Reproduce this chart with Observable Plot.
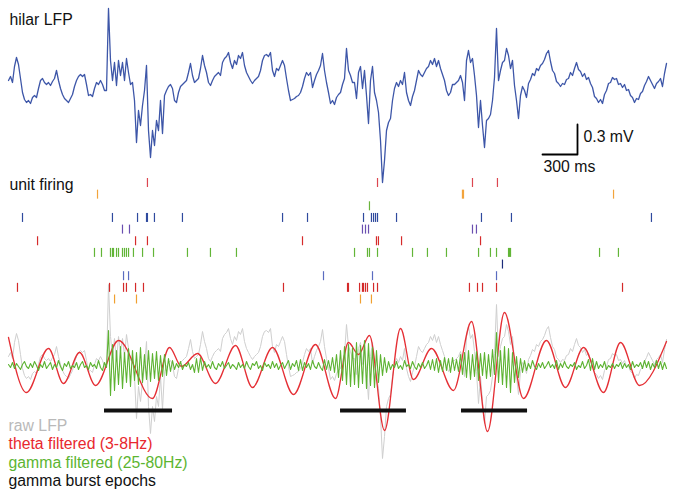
<!DOCTYPE html>
<html><head><meta charset="utf-8">
<script src="https://cdn.jsdelivr.net/npm/d3@7"></script>
<script src="https://cdn.jsdelivr.net/npm/@observablehq/plot@0.6"></script>
<style>
html,body{margin:0;padding:0;background:#fff;}
#chart{width:678px;height:503px;}
</style></head><body><div id="chart"></div>
<script>
// ---------- DATA ----------
const sampleMs = 17.143; // LFP / gamma sampling interval (ms)
const lfpValues = [ // hilar LFP, mV
0.05,0.09,0.03,0.19,0.28,0.21,0.07,-0.07,-0.14,-0.17,
-0.15,-0.18,-0.12,-0.10,-0.12,-0.03,0.05,0.07,0.03,0.01,
0.03,0,0.04,0.07,0.15,0.05,-0.03,-0.09,-0.13,-0.15,
-0.17,-0.13,-0.09,-0.01,0.05,0.09,0.11,0.09,0.11,0.01,
-0.10,-0.09,-0.11,-0.03,0.03,0.01,0.05,0.01,-0.05,-0.05,
0.77,0.25,0.05,0.23,0,0.25,0.10,0.23,0.05,0.27,
0.13,0.01,0.03,-0.15,-0.57,-0.25,-0.40,-0.20,-0.05,0.20,
-0.45,-0.72,-0.45,-0.60,-0.35,-0.45,-0.15,-0.48,-0.10,-0.05,
-0.01,0.01,-0.03,-0.15,-0.17,-0.07,-0.01,0.01,0.03,0.05,
0.13,0.22,0.10,0.03,0.05,0.07,0.17,0.30,0.20,0.13,
0.03,0,0.05,0.09,0.11,0.13,0.10,0.23,0.27,0.29,
0.33,0.23,0.17,0.25,0.21,0.30,0.27,0.33,0.20,0.13,
0.09,0.05,0.02,0.05,0.07,0.09,0.15,0.25,0.30,0.31,
0.29,0.33,0.15,0.09,0.17,0.15,0.20,0.25,0.20,0.07,
-0.05,-0.15,-0.14,-0.13,-0.11,-0.10,-0.07,-0.01,0.07,0.13,
0.10,0.13,-0.02,0.05,0.11,0.15,0.20,0.32,0.15,0.03,
-0.07,-0.18,-0.15,-0.19,-0.12,-0.09,-0.07,0.01,0.07,0.37,
0.15,0.10,0.03,0.03,-0.13,0.13,0.19,-0.03,0.15,-0.10,
-0.38,0.05,0.19,-0.07,-0.15,-0.27,-0.55,-0.97,-0.75,-0.45,
-0.37,-0.33,-0.15,-0.03,0.03,-0.01,0.05,0.01,0.13,-0.07,
-0.15,-0.20,-0.11,-0.05,0.05,0.15,0.11,0.09,0.13,0.17,
0.19,0.25,0.21,0.27,0.19,0.25,0.17,0.11,0.05,-0.05,
-0.10,-0.07,0.01,0.01,0.03,0.05,0.10,0.03,-0.15,0.25,
0.35,0.23,0.27,0.10,-0.10,-0.42,-0.15,-0.40,-0.62,-0.35,
-0.33,-0.29,-0.15,0.08,0.57,0.05,0.15,0.23,0.25,0.37,
0.30,0.17,0.25,0,-0.15,-0.33,-0.10,-0.01,-0.05,-0.12,
0.02,0.06,0.12,0.10,0.17,0.15,0.20,0.22,0.26,0.32,
0.35,0.24,0.15,0.12,0.04,0.02,-0.01,0.02,0.01,0.06,
0.07,0.13,0.10,0.17,0.23,0.16,0.14,0.09,0.12,0.06,
0.08,0.02,-0.02,-0.11,-0.13,-0.17,-0.14,-0.18,-0.09,-0.05,
0.02,0.03,0.08,0.06,0.07,0.01,0.02,-0.02,0.01,-0.05,
-0.04,-0.10,-0.12,-0.17,-0.13,-0.14,-0.08,-0.06,0.00,0.04,
0.09,0.05,0.01,-0.03,0.02,0.04,0.07,-0.01,0.12,0.22];

const gammaValues = [ // gamma filtered (25-80Hz), mV
-0.02,-0.05,0.00,-0.06,-0.01,-0.04,-0.07,-0.02,0.01,-0.04,
-0.06,-0.01,-0.05,0.01,-0.03,-0.08,-0.02,-0.05,0.01,-0.06,
-0.03,0.00,-0.07,-0.02,-0.05,0.02,-0.04,-0.08,-0.01,-0.04,
0.01,-0.06,-0.03,-0.05,0.00,-0.07,-0.02,0.01,-0.05,-0.03,
-0.07,0.00,-0.04,-0.02,-0.06,0.02,-0.05,-0.08,0.00,-0.05,
0.32,-0.33,0.18,-0.28,0.12,-0.22,0.16,-0.26,0.10,-0.20,
0.14,-0.24,0.12,-0.18,0.10,-0.22,0.15,-0.20,0.08,-0.17,
0.12,-0.19,0.09,-0.16,0.11,-0.18,0.07,-0.14,0.08,-0.13,
0.04,-0.09,0.02,-0.07,-0.01,-0.05,0.01,-0.07,-0.02,-0.04,
0.00,-0.07,-0.02,-0.10,0.04,-0.10,0.05,-0.08,0.01,-0.05,
-0.02,-0.06,0.01,-0.05,-0.07,-0.01,-0.04,0.01,-0.06,-0.03,
0.00,-0.06,-0.02,-0.04,-0.07,0.00,-0.05,-0.02,-0.06,0.01,
-0.04,-0.07,-0.01,-0.03,0.01,-0.06,-0.03,-0.08,0.00,-0.04,
-0.02,-0.06,0.01,-0.05,-0.01,-0.07,-0.03,0.00,-0.06,-0.02,
0.02,-0.07,-0.01,-0.04,0.02,-0.08,0.03,-0.08,0.00,-0.05,
-0.01,-0.07,0.02,-0.04,-0.06,0.00,-0.05,-0.08,0.03,-0.07,
0.02,-0.08,0.05,-0.10,0.08,-0.15,0.12,-0.18,0.16,-0.22,
0.18,-0.24,0.15,-0.22,0.20,-0.25,0.17,-0.21,0.22,-0.26,
0.19,-0.23,0.15,-0.25,0.12,-0.20,0.08,-0.13,0.05,-0.10,
0.01,-0.07,-0.02,-0.05,0.01,-0.06,-0.03,-0.07,0.02,-0.04,
-0.02,-0.06,0.01,-0.04,-0.07,-0.01,-0.05,0.00,-0.06,-0.03,
0.02,-0.07,0.03,-0.08,0.04,-0.10,0.02,-0.09,0.05,-0.08,
0.04,-0.10,0.05,-0.08,0.03,-0.09,0.08,-0.12,0.10,-0.15,
0.12,-0.17,0.08,-0.14,0.11,-0.18,0.09,-0.13,0.10,-0.16,
0.08,-0.14,0.13,-0.12,0.30,-0.20,0.12,-0.22,0.16,-0.25,
0.14,-0.30,0.10,-0.20,0.06,-0.15,0.04,-0.10,0.02,-0.08,
-0.01,-0.06,0.02,-0.04,-0.07,-0.01,-0.05,0.00,-0.06,-0.03,
0.01,-0.05,-0.02,-0.06,0.02,-0.07,-0.01,-0.05,0.01,-0.04,
-0.06,-0.02,-0.04,0.00,-0.07,-0.03,-0.05,0.01,-0.06,-0.03,
0.03,-0.08,0.04,-0.07,0.01,-0.06,-0.02,-0.05,0.01,-0.07,
-0.03,-0.05,-0.01,-0.06,-0.02,-0.04,0.00,-0.06,-0.01,-0.05,
-0.02,-0.07,0.01,-0.05,-0.02,-0.04,0.00,-0.06,0.02,-0.05,
0.01,-0.07,-0.01,-0.05,0.02,-0.06,0.01,-0.07,0.00,-0.06];

// theta filtered (3-8Hz): peaks and troughs
const thetaTimes  = [0,154,343,471,609,746,943,1234,1380,1483,1620,1774,1946,2091,2263,2443,2631,2803,2914,3000,3094,3223,3360,3471,3626,3814,3969,4106,4251,4414,4611,4774,4929,5100,5246,5409,5640];
const thetaValues = [0.25,-0.30,0.14,-0.21,0.10,-0.23,0.22,-0.36,0.15,-0.04,0.09,-0.21,0.17,-0.25,0.15,-0.32,0.18,-0.36,0.20,0.08,0.27,-0.68,0.34,-0.17,0.14,-0.28,0.41,-0.69,0.50,-0.36,0.22,-0.25,0.15,-0.30,0.20,-0.23,0.21];

// unit firing: spike times (ms) per unit
const unitColors = ["#dc4650","#f2a43c","#6ab43c","#2f4a9e","#6a4fb0","#d62b2b","#62b537","#1c2c7a","#5a6cc0","#d42a2a","#f0a030"];
const unitSpikes = [
  [1191,3163,3977,4191],
  [763,3891,3900,5186],
  [3094],
  [120,891,1106,1183,1191,1251,1491,2349,2563,3043,3111,3129,3146,3163,3326,4054,4311,5511],
  [977,1037,3034,3060,3086,3977,4011],
  [249,1089,1191,2520,3154,3171,3369,4046],
  [737,797,874,891,900,926,943,977,994,1011,1029,1071,1149,1243,1534,1731,1954,2966,3077,3094,3163,3463,3591,3754,4029,4131,4183,4286,4294,4303,5066,5228],
  [4234],
  [986,1029,2700,3120,4183],
  [77,866,986,1011,1089,1157,2357,2906,2914,3009,3034,3043,3060,3077,3129,3163,3951,4020,4063,4183,5263],
  [909,1097,3017,3111]
];

// gamma burst epochs (ms)
const burstStarts = [823, 2846, 3883];
const burstEnds   = [1406, 3411, 4449];

const legendLabels = ["raw LFP","theta filtered (3-8Hz)","gamma filtered (25-80Hz)","gamma burst epochs"];
const legendColors = ["#b9b9b9","#e8282e","#5cb531","#111111"];
const scaleBarMs = 300, scaleBarMv = 0.3;

// ---------- LAYOUT (vertical offsets, 100 px per mV) ----------
const pxToU = p => -p / 100;
const pxToT = p => (p - 8) * 300 / 35;
const topBase = pxToU(85), grayBase = pxToU(361), botBase = pxToU(362);

const lfp = lfpValues.map((v, i) => ({t: i * sampleMs, v}));
const gamma = gammaValues.map((v, i) => ({t: i * sampleMs, v}));
const theta = thetaTimes.map((t, i) => ({t, v: thetaValues[i]}));
const epochs = burstStarts.map((s, i) => ({s, e: burstEnds[i]}));

const rowCenter = k => pxToU(182.5 + 11.65 * k);
const tickHalf = 0.045;

const barT = pxToT(577), barU = pxToU(154);
const scaleBar = [
  {t: barT - scaleBarMs, u: barU},
  {t: barT, u: barU},
  {t: barT, u: barU + scaleBarMv}
];

const font = "'Liberation Sans', Arial, Helvetica, sans-serif";

const marks = [
  Plot.line(lfp, {x: "t", y: d => d.v + grayBase, stroke: "#cfcfcf", strokeWidth: 1}),
  Plot.line(theta, {x: "t", y: d => d.v + botBase, curve: "monotone-x", stroke: "#e52f35", strokeWidth: 1.3}),
  Plot.line(gamma, {x: "t", y: d => d.v + botBase, stroke: "#5db332", strokeWidth: 1.1}),
  Plot.ruleY(epochs, {x1: "s", x2: "e", y: pxToU(410), stroke: "#111", strokeWidth: 4}),
  Plot.line(lfp, {x: "t", y: d => d.v + topBase, stroke: "#3d56a8", strokeWidth: 1.3}),
  Plot.line(scaleBar, {x: "t", y: "u", stroke: "#000", strokeWidth: 1.8}),
  Plot.text(["0.3 mV"], {x: pxToT(583), y: pxToU(141), text: d => d, textAnchor: "start", lineAnchor: "bottom", fontSize: 15.8, fill: "#111"}),
  Plot.text(["300 ms"], {x: pxToT(543), y: pxToU(171), text: d => d, textAnchor: "start", lineAnchor: "bottom", fontSize: 15.8, fill: "#111"}),
  Plot.text(["hilar LFP"], {x: pxToT(9), y: pxToU(24), text: d => d, textAnchor: "start", lineAnchor: "bottom", fontSize: 15.8, fill: "#111"}),
  Plot.text(["unit firing"], {x: pxToT(9), y: pxToU(189), text: d => d, textAnchor: "start", lineAnchor: "bottom", fontSize: 15.8, fill: "#111"}),
  Plot.text(legendLabels, {x: pxToT(8), y: (d, i) => pxToU(430 + 18.6 * i), text: d => d, fill: (d, i) => legendColors[i], textAnchor: "start", lineAnchor: "bottom", fontSize: 15.8})
];

unitSpikes.forEach((spikes, k) => {
  marks.push(Plot.ruleX(spikes, {x: d => d, y1: rowCenter(k) - tickHalf, y2: rowCenter(k) + tickHalf, stroke: unitColors[k], strokeWidth: 1.2}));
});

const chart = Plot.plot({
  width: 678, height: 503, margin: 0,
  x: {domain: [0, 5640], range: [8, 666], axis: null},
  y: {domain: [-5.03, 0], range: [503, 0], axis: null},
  color: {type: "identity"},
  style: {fontFamily: font, background: "white", overflow: "visible"},
  marks
});
document.getElementById("chart").appendChild(chart);
</script>
</body></html>
